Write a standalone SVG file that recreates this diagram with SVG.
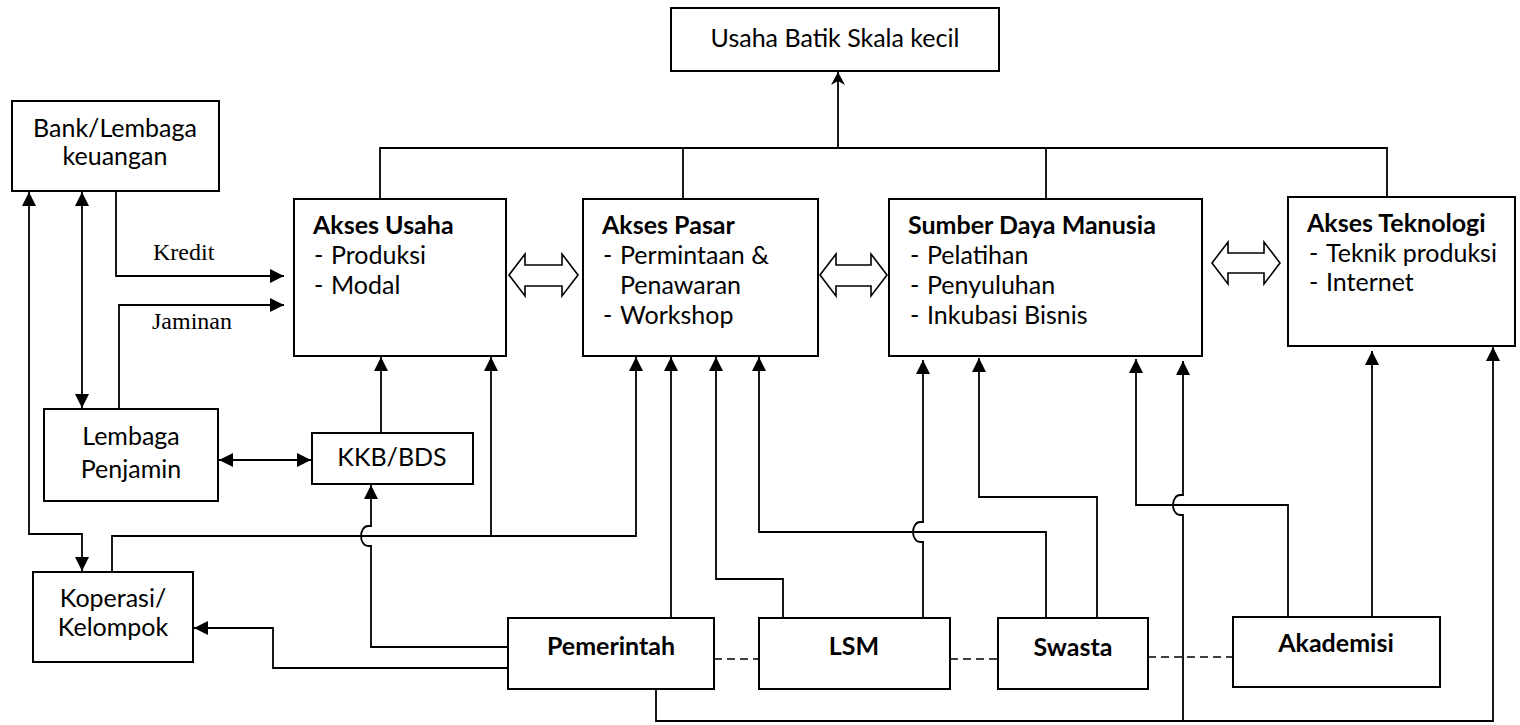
<svg xmlns="http://www.w3.org/2000/svg" width="1520" height="725" viewBox="0 0 1520 725">
<defs>
<style>
.box{fill:#fff;stroke:#000;stroke-width:2}
.t{font-family:Lato,"Open Sans","Liberation Sans",sans-serif;font-size:25px;fill:#000}
.c{text-anchor:middle}
.b{font-weight:bold}
.serif{font-family:"Liberation Serif","Times New Roman",serif;font-size:24px;fill:#000}
.ln{fill:none;stroke:#000;stroke-width:1.8}
.arr{marker-end:url(#ah)}
.both{marker-start:url(#ah);marker-end:url(#ah)}
.dash{fill:none;stroke:#000;stroke-width:1.6;stroke-dasharray:8 5}
.hollow{fill:#fff;stroke:#000;stroke-width:1.6}
</style>
<marker id="ah" viewBox="0 0 14 14" refX="14" refY="7" markerWidth="14" markerHeight="14" markerUnits="userSpaceOnUse" orient="auto-start-reverse">
<path d="M0,0 L14,7 L0,14 z" fill="#000"/>
</marker>
<marker id="st" viewBox="0 0 14 14" refX="13" refY="7" markerWidth="14" markerHeight="14" markerUnits="userSpaceOnUse" orient="auto">
<path d="M0,0 L13,7 L0,14 L4,7 z" fill="#000"/>
</marker>
</defs>
<rect width="1520" height="725" fill="#fff"/>

<g id="connectors">
<path class="ln" d="M380,199 V148 H1387 V197"/>
<path class="ln" d="M683,148 V199"/>
<path class="ln" d="M1046,148 V199"/>
<path class="ln" d="M838,148 V72" marker-end="url(#st)"/>
<path class="ln arr" d="M116,191 V276 H284"/>
<path class="ln arr" d="M119,409 V305 H284"/>
<path class="ln both" d="M82,192 V408"/>
<path class="ln both" d="M29,192 V534 H82 V571"/>
<path class="ln both" d="M219,460 H311"/>
<path class="ln arr" d="M381,433 V357"/>
<path class="ln arr" d="M112,572 V536 H636 V357"/>
<path class="ln arr" d="M491,536 V357"/>
<path class="ln arr" d="M508,647 H371 V546 h-3 a7 10 0 0 1 0 -20 h3 V485"/>
<path class="ln arr" d="M508,668 H273 V628 H194"/>
<path class="ln arr" d="M671,618 V357"/>
<path class="ln arr" d="M783,618 V579 H716 V357"/>
<path class="ln arr" d="M923,618 V542 h-3 a7 10 0 0 1 0 -20 h3 V360"/>
<path class="ln arr" d="M1046,618 V532 H759 V357"/>
<path class="ln arr" d="M1097,618 V497 H979 V358"/>
<path class="ln arr" d="M1288,617 V505 H1136 V359"/>
<path class="ln arr" d="M1372,617 V351"/>
<path class="ln arr" d="M656,689 V721 H1493 V347"/>
<path class="ln arr" d="M1183,721 V515 h-3 a7 10 0 0 1 0 -20 h3 V361"/>
<path class="dash" d="M714,659 H759"/>
<path class="dash" d="M950,659 H998"/>
<path class="dash" d="M1148,657 H1233"/>
<polygon class="hollow" points="509,275 525,254 525,265 562,265 562,254 578,275 562,296 562,286 525,286 525,296"/>
<polygon class="hollow" points="820,275 836,254 836,265 871,265 871,254 887,275 871,296 871,286 836,286 836,296"/>
<polygon class="hollow" points="1212,263 1228,242 1228,253 1264,253 1264,242 1280,263 1264,284 1264,273 1228,273 1228,284"/>
<text class="serif" x="153" y="260">Kredit</text>
<text class="serif" x="152" y="329">Jaminan</text>
</g>

<g id="usaha-batik">
<rect class="box" x="671" y="8" width="328" height="63"/>
<text class="t c" x="835" y="47">Usaha Batik Skala kecil</text>
</g>
<g id="bank">
<rect class="box" x="12" y="101" width="207" height="90"/>
<text class="t c" x="115" y="137">Bank/Lembaga</text>
<text class="t c" x="115" y="165">keuangan</text>
</g>
<g id="lembaga-penjamin">
<rect class="box" x="44" y="409" width="174" height="92"/>
<text class="t c" x="131" y="445">Lembaga</text>
<text class="t c" x="131" y="478">Penjamin</text>
</g>
<g id="kkb-bds">
<rect class="box" x="312" y="433" width="161" height="51"/>
<text class="t c" x="392" y="466">KKB/BDS</text>
</g>
<g id="koperasi">
<rect class="box" x="33" y="572" width="160" height="90"/>
<text class="t c" x="113" y="607">Koperasi/</text>
<text class="t c" x="113" y="636">Kelompok</text>
</g>
<g id="akses-usaha">
<rect class="box" x="294" y="199" width="212" height="157"/>
<text class="t b" x="313" y="234">Akses Usaha</text>
<text class="t" x="314" y="264">-</text><text class="t" x="331" y="264">Produksi</text>
<text class="t" x="314" y="294">-</text><text class="t" x="331" y="294">Modal</text>
</g>
<g id="akses-pasar">
<rect class="box" x="583" y="199" width="235" height="157"/>
<text class="t b" x="602" y="234">Akses Pasar</text>
<text class="t" x="603" y="264">-</text><text class="t" x="620" y="264">Permintaan &amp;</text>
<text class="t" x="620" y="294">Penawaran</text>
<text class="t" x="603" y="324">-</text><text class="t" x="620" y="324">Workshop</text>
</g>
<g id="sdm">
<rect class="box" x="889" y="199" width="313" height="157"/>
<text class="t b" x="908" y="234">Sumber Daya Manusia</text>
<text class="t" x="910" y="264">-</text><text class="t" x="927" y="264">Pelatihan</text>
<text class="t" x="910" y="294">-</text><text class="t" x="927" y="294">Penyuluhan</text>
<text class="t" x="910" y="324">-</text><text class="t" x="927" y="324">Inkubasi Bisnis</text>
</g>
<g id="akses-teknologi">
<rect class="box" x="1288" y="197" width="227" height="149"/>
<text class="t b" x="1307" y="232">Akses Teknologi</text>
<text class="t" x="1309" y="262">-</text><text class="t" x="1326" y="262">Teknik produksi</text>
<text class="t" x="1309" y="291">-</text><text class="t" x="1326" y="291">Internet</text>
</g>
<g id="pemerintah">
<rect class="box" x="508" y="618" width="206" height="71"/>
<text class="t c b" x="611" y="655">Pemerintah</text>
</g>
<g id="lsm">
<rect class="box" x="759" y="618" width="191" height="71"/>
<text class="t c b" x="854" y="655">LSM</text>
</g>
<g id="swasta">
<rect class="box" x="998" y="618" width="150" height="71"/>
<text class="t c b" x="1073" y="656">Swasta</text>
</g>
<g id="akademisi">
<rect class="box" x="1233" y="617" width="207" height="70"/>
<text class="t c b" x="1336" y="652">Akademisi</text>
</g>
</svg>
